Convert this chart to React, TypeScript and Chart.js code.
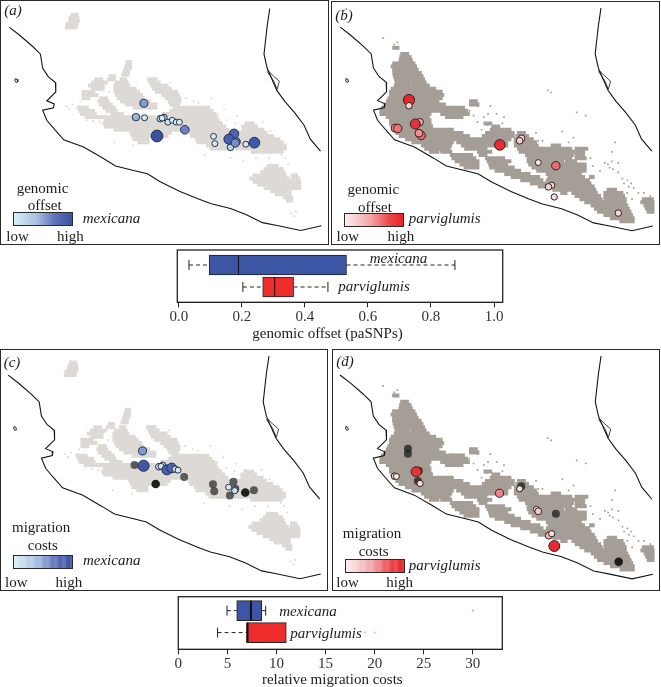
import React, { useEffect, useRef } from "react";
import { Chart, registerables } from "chart.js";

Chart.register(...registerables);

type P = [number, number];
type Site = [number, number, number];
type Row = [number, number[]];

// ---- geography (map units, 990 x 750) ----
const coastWest: P[] = [[8,65],[40,90],[80,125],[105,150],[112,195],[130,222],[152,240],[153,270],[125,298],[148,308],[146,320],[112,328],[125,360],[150,390],[178,422],[240,445],[300,480],[340,505],[400,520],[440,530],[480,555],[540,585],[600,610],[640,625],[700,640],[750,660],[800,685],[850,695],[920,710],[985,695]];
const coastEast: P[] = [[823,5],[815,60],[805,150],[815,195],[830,230],[845,265],[870,300],[900,335],[930,375],[950,420],[982,458]];
const lagoon: P[] = [[815,200],[835,220],[853,236],[846,262],[835,235],[815,205]];
const island: P[] = [[26,228],[32,230],[34,238],[29,240],[25,234],[26,228]];

// land cover, read as rows: y, then x-from / x-to pairs
const mexRows: Row[] = [
  [25,[205,218]],[35,[200,220]],[45,[198,222]],[55,[190,218]],[65,[188,195,205,215]],
  [175,[378,385]],[185,[376,386]],[195,[372,385]],[205,[368,380]],[215,[365,378]],
  [220,[325,335]],[230,[280,295,320,335,360,370,445,465]],[240,[270,310,345,375,450,475]],
  [250,[260,300,340,380,455,500]],[260,[270,300,340,400,460,510]],[270,[240,270,340,410,470,530]],
  [280,[240,280,345,420,490,535]],[290,[240,255,295,310,350,425,500,540]],
  [300,[290,315,360,445,510,540]],[310,[295,325,375,465,515,535]],
  [320,[225,250,305,335,400,465,525,630]],[330,[230,270,315,340,515,640]],
  [340,[235,275,330,360,490,650]],[350,[250,300,310,460,480,655]],
  [360,[310,660]],[370,[305,670,750,770]],[380,[310,680,740,780]],
  [390,[340,380,390,550,570,690,740,800]],[400,[390,510,575,700,720,810]],
  [410,[395,500,580,830]],[420,[400,440,595,850]],[430,[415,440,600,860]],[440,[630,870]],
  [450,[640,690,720,870]],[460,[770,860]],
  [505,[820,845]],[515,[810,860]],[525,[800,865]],[535,[775,870,895,905]],[545,[765,880,895,912]],
  [555,[775,890,900,915]],[565,[790,915]],[575,[810,885,895,915]],[585,[830,885]],[595,[845,885]],
  [605,[870,890]],[615,[880,890]],
];
const parRows: Row[] = [
  [130,[177,187]],[150,[202,217]],[160,[199,225]],[170,[197,229]],[180,[177,197,202,237]],[190,[172,197,202,242]],
  [200,[177,247]],[210,[177,227,237,257]],[220,[179,222,232,262]],[230,[182,227,237,267]],[240,[185,222,235,272]],
  [250,[182,227,237,282]],[260,[172,302]],[270,[167,322]],[280,[167,327]],[290,[162,322]],
  [300,[157,312,417,432]],[310,[152,332,417,437]],[320,[142,352,357,392]],[330,[137,402]],
  [340,[137,287,327,407]],[350,[157,282,342,387]],[360,[167,287]],[370,[167,287,462,477]],
  [380,[172,292,487,502]],[390,[177,357,482,537]],[400,[187,387,467,547,567,582]],
  [410,[197,407,457,547,562,592]],[420,[217,427,437,537,557,607]],[430,[237,357,377,527,557,617]],
  [440,[267,352,392,527,557,622,672,692]],[450,[277,347,402,462,567,632,637,727,747,777]],
  [460,[292,312,327,352,442,477,572,767]],[470,[357,417,447,462,592,732,747,767]],
  [480,[362,427,467,517,597,727,747,772]],[490,[372,437,472,537,597,702,717,742]],
  [500,[387,437,477,527,602,682,697,747,757,772]],[510,[400,437,480,547,612,772]],
  [520,[497,567,627,772]],[530,[527,597,657,757]],[540,[547,627,662,767,792,797]],
  [550,[577,637,657,782]],[560,[607,787]],[570,[632,797]],[580,[677,712,722,802,847,867]],
  [590,[702,712,737,807,837,887]],[600,[747,817,837,892]],[610,[762,822,837,897,957,982]],
  [620,[777,827,837,897,952,987]],[630,[797,902,962,987]],[640,[807,907,967,987]],
  [650,[817,912,972,987]],[660,[837,917]],[670,[857,922]],[680,[887,922]],
];
const mexSpeck: P[] = [[195,325],[205,310],[225,315],[320,270],[455,228],[560,290],[600,305],[640,290],[680,325],[720,345],[800,365],[825,395],[870,480],[880,500],[335,430],[395,440],[700,480],[740,490],[890,655],[900,665],[905,650],[620,470],[780,480],[820,480],[230,300],[185,315],[510,240],[545,330],[690,360],[715,370],[350,255],[250,360],[270,362],[290,365],[585,300],[660,340],[670,365],[860,470],[825,500]];
const parSpeck: P[] = [[177,120],[187,113],[142,100],[437,315],[477,315],[457,350],[437,365],[497,340],[467,375],[657,265],[667,272],[747,335],[775,345],[702,395],[722,430],[737,415],[627,425],[857,490],[877,495],[857,460],[867,430],[797,505],[787,545],[877,525],[917,560],[957,590],[977,600],[20,12],[27,8],[620,400],[640,425],[890,545],[905,550],[925,575],[940,590],[905,590],[920,610],[820,520],[850,510],[835,495],[790,480],[412,330],[425,345],[515,370],[520,350],[470,340],[450,390],[845,500],[860,515],[895,560],[910,570]];

// ---- sites: x, y, value ----
const offsetMex: Site[] = [[429,306,.37],[404,350,.28],[431,352,.03],[480,355,.13],[492,351,.1],[486,353,.03],[504,366,.03],[518,360,.02],[530,366,.02],[540,366,.02],[557,390,.47],[647,411,.02],[651,434,.02],[700,446,.15],[717,428,.5],[711,403,.62],[695,420,.7],[715,432,.42],[748,436,.03],[775,431,.82],[470,410,1]];
const offsetPar: Site[] = [[223,296,.9],[223,314,.13],[257,366,.25],[243,372,.7],[261,408,.47],[254,401,.33],[180,385,.37],[188,386,.42],[507,438,.8],[575,417,.13],[569,425,.15],[627,494,.02],[682,504,.45],[669,566,.1],[659,571,.15],[677,603,.08],[877,654,.12]];
const costMex: Site[] = [[428,305,.38],[431,352,.9],[479,355,.15],[491,350,.05],[486,354,.03],[504,365,.7],[519,359,.65],[530,363,.1],[539,366,.04],[697,420,.03],[716,431,.08]];
const costPar: Site[] = [[246,371,.72],[178,385,.12],[184,386,.04],[258,408,.08],[506,439,.38],[569,425,.06],[621,490,.03],[627,496,.17],[660,573,.22],[669,567,.08],[677,606,.85]];
const farMex: Site[] = [[403,350,.4],[558,388,.4],[648,411,.4],[652,433,.4],[701,446,.4],[712,403,.4],[718,425,.4],[776,430,.4],[469,410,.6],[749,437,.6]];
const farPar: Site[] = [[220,298,.45],[220,314,.45],[254,368,.5],[251,400,.45],[574,417,.5],[682,504,.45],[878,656,.6]];

// ---- box plots ----
const speciesNames = ["mexicana", "parviglumis"];
const offsetLow = [0.032, 0.203];
const offsetQ1 = [0.096, 0.266];
const offsetMed = [0.189, 0.304];
const offsetQ3 = [0.532, 0.364];
const offsetHigh = [0.876, 0.473];
const offsetTicks = [0, 0.2, 0.4, 0.6, 0.8, 1.0];
const costLow = [4.96, 4.0];
const costQ1 = [5.95, 6.95];
const costMed = [7.4, 7.05];
const costQ3 = [8.5, 11.0];
const costHigh = [8.9, 11.0];
const costOutliers: P[] = [[30, 0], [19, 1], [20, 1]];
const costTicks = [0, 5, 10, 15, 20, 25, 30];

const BLUE = "#3c55a5";
const RED = "#ee2c2c";
const LAND_LIGHT = "#dddad6";
const LAND_DARK = "#a59e96";
const SERIF = '"Liberation Serif", serif';

const blueStops: [number, number[]][] = [[0,[216,239,242]],[.15,[181,213,226]],[.28,[157,180,220]],[.4,[125,145,205]],[.6,[78,100,178]],[1,[58,80,160]]];
const redStops: [number, number[]][] = [[0,[247,236,236]],[.15,[243,208,210]],[.3,[240,154,156]],[.45,[238,106,112]],[.7,[230,51,56]],[1,[232,36,42]]];

function ramp(stops: [number, number[]][], v: number) {
  for (let i = 1; i < stops.length; i++) {
    if (v <= stops[i][0]) {
      const [a, ca] = stops[i - 1];
      const [b, cb] = stops[i];
      const t = (v - a) / (b - a);
      return `rgb(${ca.map((c, k) => Math.round(c + (cb[k] - c) * t)).join(",")})`;
    }
  }
  return `rgb(${stops[stops.length - 1][1].join(",")})`;
}
const radius = (v: number) => 2.9 + 3 * v;

function toXY(p: P[]) {
  return p.map(([x, y]) => ({ x, y }));
}
function rowDatasets(rows: Row[], color: string) {
  const out: any[] = [];
  rows.forEach(([y, xs]) => {
    for (let i = 0; i < xs.length; i += 2) {
      out.push({
        data: [{ x: xs[i], y }, { x: xs[i + 1], y }],
        showLine: true, fill: false, borderColor: color, borderWidth: 4, borderCapStyle: "square",
        pointRadius: 0, tension: 0, order: 8,
      });
    }
  });
  return out;
}

function siteDataset(sites: Site[], stops: [number, number[]][], edge: string, order: number) {
  return {
    data: sites.map(([x, y]) => ({ x, y })),
    pointRadius: sites.map((s) => radius(s[2])),
    pointBackgroundColor: sites.map((s) => ramp(stops, s[2])),
    pointBorderColor: edge,
    pointBorderWidth: 1,
    showLine: false,
    order,
  };
}
function farDataset(sites: Site[], order: number) {
  return {
    data: sites.map(([x, y]) => ({ x, y })),
    pointRadius: sites.map((s) => (s[2] > 0.55 ? 4.3 : 4)),
    pointBackgroundColor: sites.map((s) => (s[2] > 0.55 ? "rgba(20,20,20,.95)" : s[2] > 0.42 ? "rgba(35,35,35,.8)" : "rgba(60,60,60,.82)")),
    pointBorderWidth: 0,
    showLine: false,
    order,
  };
}
function mapDatasets(rows: Row[], speck: P[], color: string, sites: any[]) {
  const line = (d: P[], w: number) => ({
    data: toXY(d), showLine: true, borderColor: "#141414", borderWidth: w, pointRadius: 0, fill: false, tension: 0, order: 5,
  });
  return [
    ...sites,
    line(coastWest, 1.1),
    line(coastEast, 1.1),
    line(lagoon, 0.8),
    line(island, 0.9),
    { data: toXY(speck), showLine: false, pointStyle: "rect", pointRadius: 1.2, pointBorderWidth: 0, pointBackgroundColor: color, order: 7 },
    ...rowDatasets(rows, color),
  ];
}

function MapChart({ left, top, datasets }: { left: number; top: number; datasets: any[] }) {
  const ref = useRef<HTMLCanvasElement>(null);
  useEffect(() => {
    const chart = new Chart(ref.current!, {
      type: "scatter",
      data: { datasets },
      options: {
        animation: false,
        responsive: false,
        layout: { padding: 0 },
        plugins: { legend: { display: false }, tooltip: { enabled: false } },
        scales: {
          x: { type: "linear", min: 0, max: 990, display: false },
          y: { type: "linear", min: 0, max: 750, reverse: true, display: false },
        },
      },
    });
    return () => chart.destroy();
  }, []);
  return <canvas ref={ref} width={330} height={250} style={{ position: "absolute", left, top, width: 330, height: 250 }} />;
}

interface BoxProps {
  left: number; top: number; width: number; height: number;
  padLeft: number; padRight: number; padTop: number; axisHeight: number;
  min: number; max: number; ticks: number[]; decimals: number;
  low: number[]; q1: number[]; med: number[]; q3: number[]; high: number[];
  yMin: number; yMax: number; medWidth: number; outliers: P[];
}
function BoxChart(b: BoxProps) {
  const ref = useRef<HTMLCanvasElement>(null);
  useEffect(() => {
    const rows = [1, 2];
    const whiskers = {
      id: "whiskers",
      afterDatasetsDraw(chart: any) {
        const { ctx, scales: { x, y }, chartArea: A } = chart;
        ctx.save();
        ctx.strokeStyle = "#222";
        ctx.lineWidth = 1;
        rows.forEach((r, i) => {
          const py = y.getPixelForValue(r);
          const seg = (a: number, c: number, dash: number[]) => {
            ctx.setLineDash(dash);
            ctx.beginPath();
            ctx.moveTo(x.getPixelForValue(a), py);
            ctx.lineTo(x.getPixelForValue(c), py);
            ctx.stroke();
          };
          seg(b.low[i], b.q1[i], [4, 3]);
          if (b.high[i] > b.q3[i]) seg(b.q3[i], b.high[i], [4, 3]);
          ctx.setLineDash([]);
          [b.low[i], b.high[i]].forEach((v, k) => {
            if (k === 1 && b.high[i] <= b.q3[i]) return;
            const px = x.getPixelForValue(v);
            ctx.beginPath();
            ctx.moveTo(px, py - 5);
            ctx.lineTo(px, py + 5);
            ctx.stroke();
          });
          const m = x.getPixelForValue(b.med[i]);
          ctx.lineWidth = b.medWidth;
          ctx.strokeStyle = "#111";
          ctx.beginPath();
          ctx.moveTo(m, py - 10);
          ctx.lineTo(m, py + 10);
          ctx.stroke();
          ctx.lineWidth = 1;
          ctx.strokeStyle = "#222";
        });
        b.outliers.forEach(([v, i]) => {
          ctx.fillStyle = i === 0 ? "#b9bccb" : "#f2b9b9";
          ctx.beginPath();
          ctx.arc(x.getPixelForValue(v), y.getPixelForValue(rows[i]), 1.1, 0, 7);
          ctx.fill();
        });
        ctx.setLineDash([]);
        ctx.strokeStyle = "#222";
        ctx.lineWidth = 1.3;
        ctx.strokeRect(A.left, A.top, A.right - A.left, A.bottom - A.top);
        ctx.restore();
      },
    };
    const chart = new Chart(ref.current!, {
      type: "bar",
      data: {
        datasets: [{
          data: rows.map((r, i) => ({ x: [b.q1[i], b.q3[i]], y: r })),
          backgroundColor: [BLUE, RED],
          borderColor: "#222",
          borderWidth: 1,
          borderSkipped: false,
          barThickness: 20,
        }],
      } as any,
      options: {
        animation: false,
        responsive: false,
        indexAxis: "y",
        layout: { padding: { left: b.padLeft, right: b.padRight, top: b.padTop, bottom: 0 } },
        plugins: { legend: { display: false }, tooltip: { enabled: false } },
        scales: {
          y: { type: "linear", offset: false, bounds: "data", min: b.yMin, max: b.yMax, reverse: true, display: false },
          x: {
            type: "linear", bounds: "data", min: b.min, max: b.max,
            afterBuildTicks: (s: any) => { s.ticks = b.ticks.map((value) => ({ value })); },
            afterFit: (s: any) => { s.height = b.axisHeight; },
            border: { display: true, color: "#222", width: 1 },
            grid: { drawOnChartArea: false, drawTicks: true, tickLength: 5, color: "#222" },
            ticks: {
              autoSkip: false, maxRotation: 0, padding: 1, color: "#333",
              font: { family: SERIF, size: 15 },
              callback: (v: any) => Number(v).toFixed(b.decimals),
            },
          },
        },
      } as any,
      plugins: [whiskers],
    });
    return () => chart.destroy();
  }, []);
  return <canvas ref={ref} width={b.width} height={b.height} style={{ position: "absolute", left: b.left, top: b.top, width: b.width, height: b.height }} />;
}

function Txt({ x, y, t, i }: { x: number; y: number; t: React.ReactNode; i?: boolean }) {
  return (
    <div style={{ position: "absolute", left: x, top: y, transform: "translate(-50%,-50%)", font: `${i ? "italic " : ""}15px ${SERIF}`, color: "#1c1c1c", whiteSpace: "nowrap", lineHeight: 1 }}>
      {t}
    </div>
  );
}
function Frame({ l, t, w, h }: { l: number; t: number; w: number; h: number }) {
  return <div style={{ position: "absolute", left: l, top: t, width: w, height: h, boxSizing: "border-box", border: "1.5px solid #2a2a2a" }} />;
}
function Ramp({ l, t, w, h, bg }: { l: number; t: number; w: number; h: number; bg: string }) {
  return <div style={{ position: "absolute", left: l, top: t, width: w, height: h, boxSizing: "border-box", border: "1px solid #2a2a2a", background: bg }} />;
}
const Lab = ({ n }: { n: string }) => <i>({n})</i>;

const blueGrad = "linear-gradient(90deg,#d8eff6,#a9bde0 40%,#5f74b8 70%,#3a50a4)";
const redGrad = "linear-gradient(90deg,#fbeeee,#f3a5a8 45%,#ec4a4e 75%,#e8242a)";
const blueSteps = "repeating-linear-gradient(90deg,rgba(255,255,255,.12) 0 4px,rgba(0,0,0,0) 4px 8px),linear-gradient(90deg,#d8eff6,#a9bde0 40%,#5f74b8 70%,#3a50a4)";
const redSteps = "repeating-linear-gradient(90deg,rgba(255,255,255,.1) 0 4px,rgba(0,0,0,0) 4px 8px),linear-gradient(90deg,#fbeeee,#f3a5a8 45%,#ec4a4e 75%,#e8242a)";

export default function App() {
  const mexEdge = "#27304f";
  const parEdge = "#35201f";
  return (
    <div style={{ position: "absolute", left: 0, top: 0, width: 661, height: 687, background: "#fff", overflow: "hidden" }}>
      <MapChart left={0} top={0} datasets={mapDatasets(mexRows, mexSpeck, LAND_LIGHT, [siteDataset(offsetMex, blueStops, mexEdge, 0)])} />
      <MapChart left={331} top={0} datasets={mapDatasets(parRows, parSpeck, LAND_DARK, [siteDataset(offsetPar, redStops, parEdge, 0)])} />
      <MapChart left={-1} top={348} datasets={mapDatasets(mexRows, mexSpeck, LAND_LIGHT, [siteDataset(costMex, blueStops, mexEdge, 0), farDataset(farMex, 1)])} />
      <MapChart left={331} top={348} datasets={mapDatasets(parRows, parSpeck, LAND_DARK, [siteDataset(costPar, redStops, parEdge, 0), farDataset(farPar, 1)])} />

      <Frame l={0} t={0} w={329} h={245} />
      <Frame l={331} t={1} w={329} h={244} />
      <Frame l={0} t={349} w={328} h={242} />
      <Frame l={332} t={349} w={328} h={242} />

      <BoxChart left={150} top={245} width={360} height={98} padLeft={27.3} padRight={7.3} padTop={5} axisHeight={40.7}
        min={-0.005} max={1.0276} ticks={offsetTicks} decimals={1}
        low={offsetLow} q1={offsetQ1} med={offsetMed} q3={offsetQ3} high={offsetHigh}
        yMin={0.318} yMax={2.695} medWidth={1} outliers={[]} />
      <BoxChart left={150} top={590} width={360} height={97} padLeft={28.3} padRight={7.7} padTop={6.7} axisHeight={37.7}
        min={0} max={33} ticks={costTicks} decimals={0}
        low={costLow} q1={costQ1} med={costMed} q3={costQ3} high={costHigh}
        yMin={0.365} yMax={2.76} medWidth={2} outliers={costOutliers} />

      <Txt x={327.5} y={333} t="genomic offset (paSNPs)" />
      <Txt x={332.3} y={679} t="relative migration costs" />

      <Txt x={13} y={10} t={<Lab n="a" />} />
      <Txt x={344} y={15} t={<Lab n="b" />} />
      <Txt x={12} y={362} t={<Lab n="c" />} />
      <Txt x={345} y={361} t={<Lab n="d" />} />

      <Txt x={42.5} y={188} t="genomic" />
      <Txt x={44.7} y={205} t="offset" />
      <Ramp l={13} t={212} w={60} h={14} bg={blueGrad} />
      <Txt x={111.5} y={218} t={speciesNames[0]} i />
      <Txt x={17.5} y={236} t="low" />
      <Txt x={70.3} y={236} t="high" />

      <Txt x={373.3} y={189} t="genomic" />
      <Txt x={375} y={207} t="offset" />
      <Ramp l={344} t={213} w={60} h={14} bg={redGrad} />
      <Txt x={444.7} y={218} t={speciesNames[1]} i />
      <Txt x={347.8} y={236} t="low" />
      <Txt x={400.8} y={236} t="high" />

      <Txt x={41.2} y={526.7} t="migration" />
      <Txt x={42.8} y={545} t="costs" />
      <Ramp l={13} t={555} w={60} h={14} bg={blueSteps} />
      <Txt x={111.7} y={560.3} t={speciesNames[0]} i />
      <Txt x={16.3} y={581.7} t="low" />
      <Txt x={68.8} y={581.7} t="high" />

      <Txt x={372} y={532.7} t="migration" />
      <Txt x={373.7} y={550.7} t="costs" />
      <Ramp l={345} t={559} w={60} h={14} bg={redSteps} />
      <Txt x={444.7} y={565} t={speciesNames[1]} i />
      <Txt x={347.5} y={581.7} t="low" />
      <Txt x={399.7} y={581.7} t="high" />

      <Txt x={398.5} y={258} t={speciesNames[0]} i />
      <Txt x={374} y={286} t={speciesNames[1]} i />
      <Txt x={308} y={611} t={speciesNames[0]} i />
      <Txt x={326} y={632.5} t={speciesNames[1]} i />
    </div>
  );
}
